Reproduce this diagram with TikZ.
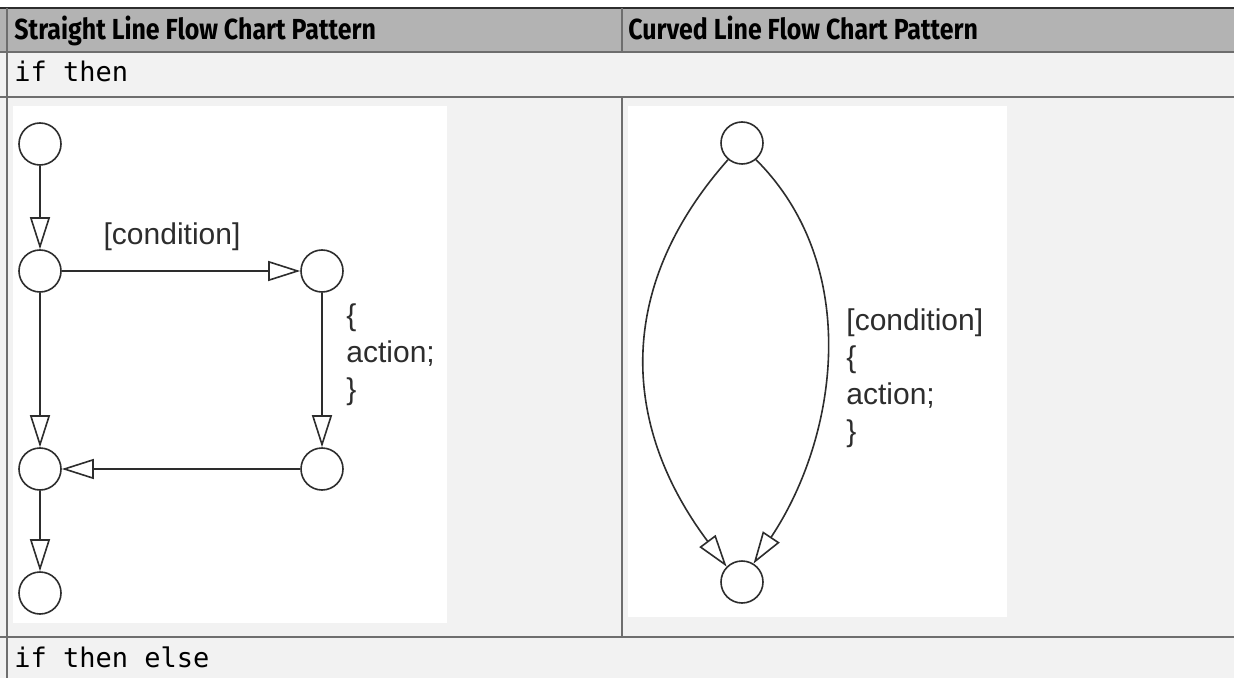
\documentclass[tikz,border=0pt]{standalone}
\usepackage{fontspec}
\setmainfont{Liberation Sans}
\setmonofont{DejaVu Sans Mono}
\newfontfamily\headfont[FakeStretch=0.86]{Fira Sans}
\usetikzlibrary{arrows.meta,positioning}
\definecolor{headgray}{RGB}{179,179,179}
\definecolor{rowgray}{RGB}{242,242,242}
\definecolor{rulegray}{RGB}{110,110,110}
\definecolor{inkgray}{RGB}{45,45,45}

\begin{document}
\begin{tikzpicture}[x=0.5pt, y=-0.5pt, on grid,
  junction/.style={circle, draw=inkgray, line width=0.8pt, minimum size=21pt, inner sep=0pt},
  arr/.style={-{Triangle[open, length=16pt, width=10pt]}, draw=inkgray, line width=0.8pt},
  lbl/.style={font=\fontsize{15}{18.5}\selectfont, text=inkgray, align=left, inner sep=0pt},
  head/.style={font=\headfont\bfseries\fontsize{14.5}{16}\selectfont, anchor=base west, inner sep=0pt},
  code/.style={font=\ttfamily\fontsize{13.5}{15}\selectfont, anchor=base west, inner sep=0pt}]
\useasboundingbox (0,0) rectangle (1234,678);
% table
\fill[headgray] (0,8) rectangle (1234,52);
\fill[rowgray] (0,52) rectangle (1234,678);
\fill[white] (13,106) rectangle (447,623);
\fill[white] (628,106) rectangle (1007,617);
\draw[inkgray, line width=1pt] (0,8) -- (1234,8);
\draw[rulegray, line width=0.8pt] (0,52) -- (1234,52) (0,97) -- (1234,97) (0,637) -- (1234,637);
\draw[rulegray, line width=1pt] (7,8) -- (7,678);
\draw[rulegray, line width=0.8pt] (622,8) -- (622,52) (622,97) -- (622,637);
\node[head] (hl) at (14,40) {Straight Line Flow Chart Pattern};
\node[head] (hr) at (628,40) {Curved Line Flow Chart Pattern};
\node[code] (r1) at (14,82) {if then};
\node[code] (r2) at (14,667) {if then else};
% straight line pattern
\node[junction] (s1) at (40,144) {};
\node[junction, below=63.5pt of s1] (s2) {};
\node[junction, right=141pt of s2] (s3) {};
\node[junction, below=99pt of s3] (s4) {};
\node[junction, below=99pt of s2] (s5) {};
\node[junction, below=62pt of s5] (s6) {};
\draw[arr] (s1) -- (s2);
\draw[arr] (s2) -- (s3);
\draw[arr] (s3) -- (s4);
\draw[arr] (s4) -- (s5);
\draw[arr] (s2) -- (s5);
\draw[arr] (s5) -- (s6);
\node[lbl] (scond) at (172,237) {[condition]};
\node[lbl, anchor=west] (sact) at (346,355) {\{\\action;\\\}};
% curved line pattern
\node[junction] (c1) at (742,143) {};
\node[junction, below=219.5pt of c1] (c2) {};
\draw[arr] (c1.230) .. controls +(-115,130) and +(-104,-139) .. (c2.135);
\draw[arr] (c1.310) .. controls +(107,107) and +(84,-126) .. (c2.58);
\node[lbl, anchor=west] (cact) at (846,378) {[condition]\\\{\\action;\\\}};
\end{tikzpicture}
\end{document}
